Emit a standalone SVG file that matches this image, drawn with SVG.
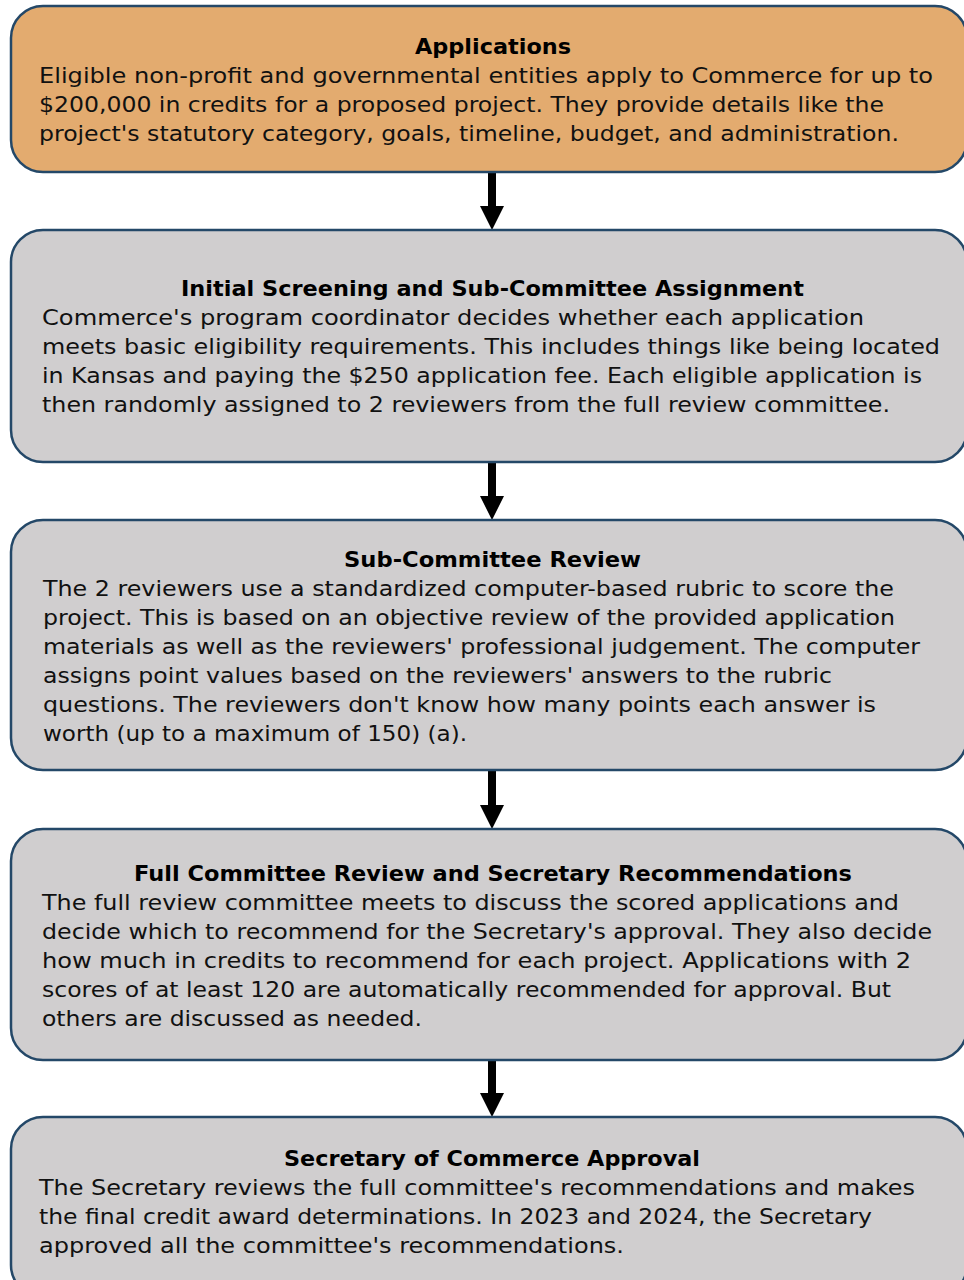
<svg xmlns="http://www.w3.org/2000/svg" width="964" height="1280" viewBox="0 0 964 1280">
  <style>
    .box { stroke: #244868; stroke-width: 2.5; }
    .orange { fill: #E3AB6F; }
    .gray { fill: #D0CECF; }
    .title { font-family: "DejaVu Sans", "Liberation Sans", sans-serif; font-size: 22px; font-weight: bold; fill: #000; text-anchor: middle; }
    .body { font-family: "DejaVu Sans", "Liberation Sans", sans-serif; font-size: 22px; fill: #111; }
    .arrow { fill: #000; }
  </style>
  <rect width="964" height="1280" fill="#FFFFFF"/>

  <g id="connectors">
    <path class="arrow" d="M488 172 H496 V206 H504 L492 230 L480 206 H488 Z"/>
    <path class="arrow" d="M488 462 H496 V496 H504 L492 520 L480 496 H488 Z"/>
    <path class="arrow" d="M488 770 H496 V805 H504 L492 829 L480 805 H488 Z"/>
    <path class="arrow" d="M488 1060 H496 V1093 H504 L492 1117 L480 1093 H488 Z"/>
  </g>

  <g id="applications">
    <rect class="box orange" x="11" y="6" width="956" height="166" rx="32" ry="32"/>
    <text class="title" x="493" y="54" textLength="156" lengthAdjust="spacingAndGlyphs">Applications</text>
    <text class="body" x="39" y="83" textLength="894" lengthAdjust="spacingAndGlyphs">Eligible non-profit and governmental entities apply to Commerce for up to</text>
    <text class="body" x="39" y="112" textLength="845" lengthAdjust="spacingAndGlyphs">$200,000 in credits for a proposed project. They provide details like the</text>
    <text class="body" x="39" y="141" textLength="860" lengthAdjust="spacingAndGlyphs">project's statutory category, goals, timeline, budget, and administration.</text>
  </g>

  <g id="initial-screening">
    <rect class="box gray" x="11" y="230" width="956" height="232" rx="32" ry="32"/>
    <text class="title" x="492.5" y="296" textLength="623" lengthAdjust="spacingAndGlyphs">Initial Screening and Sub-Committee Assignment</text>
    <text class="body" x="42" y="325" textLength="822" lengthAdjust="spacingAndGlyphs">Commerce's program coordinator decides whether each application</text>
    <text class="body" x="42" y="354" textLength="898" lengthAdjust="spacingAndGlyphs">meets basic eligibility requirements. This includes things like being located</text>
    <text class="body" x="42" y="383" textLength="880" lengthAdjust="spacingAndGlyphs">in Kansas and paying the $250 application fee. Each eligible application is</text>
    <text class="body" x="42" y="412" textLength="848" lengthAdjust="spacingAndGlyphs">then randomly assigned to 2 reviewers from the full review committee.</text>
  </g>

  <g id="sub-committee-review">
    <rect class="box gray" x="11" y="520" width="956" height="250" rx="32" ry="32"/>
    <text class="title" x="492.5" y="567" textLength="297" lengthAdjust="spacingAndGlyphs">Sub-Committee Review</text>
    <text class="body" x="43" y="596" textLength="851" lengthAdjust="spacingAndGlyphs">The 2 reviewers use a standardized computer-based rubric to score the</text>
    <text class="body" x="43" y="625" textLength="852" lengthAdjust="spacingAndGlyphs">project. This is based on an objective review of the provided application</text>
    <text class="body" x="43" y="654" textLength="877" lengthAdjust="spacingAndGlyphs">materials as well as the reviewers' professional judgement. The computer</text>
    <text class="body" x="43" y="683" textLength="789" lengthAdjust="spacingAndGlyphs">assigns point values based on the reviewers' answers to the rubric</text>
    <text class="body" x="43" y="712" textLength="833" lengthAdjust="spacingAndGlyphs">questions. The reviewers don't know how many points each answer is</text>
    <text class="body" x="43" y="741" textLength="424" lengthAdjust="spacingAndGlyphs">worth (up to a maximum of 150) (a).</text>
  </g>

  <g id="full-committee-review">
    <rect class="box gray" x="11" y="829" width="956" height="231" rx="32" ry="32"/>
    <text class="title" x="493" y="881" textLength="718" lengthAdjust="spacingAndGlyphs">Full Committee Review and Secretary Recommendations</text>
    <text class="body" x="42" y="910" textLength="857" lengthAdjust="spacingAndGlyphs">The full review committee meets to discuss the scored applications and</text>
    <text class="body" x="42" y="939" textLength="890" lengthAdjust="spacingAndGlyphs">decide which to recommend for the Secretary's approval. They also decide</text>
    <text class="body" x="42" y="968" textLength="869" lengthAdjust="spacingAndGlyphs">how much in credits to recommend for each project. Applications with 2</text>
    <text class="body" x="42" y="997" textLength="849" lengthAdjust="spacingAndGlyphs">scores of at least 120 are automatically recommended for approval. But</text>
    <text class="body" x="42" y="1026" textLength="380" lengthAdjust="spacingAndGlyphs">others are discussed as needed.</text>
  </g>

  <g id="secretary-approval">
    <rect class="box gray" x="11" y="1117" width="956" height="180" rx="32" ry="32"/>
    <text class="title" x="492" y="1166" textLength="416" lengthAdjust="spacingAndGlyphs">Secretary of Commerce Approval</text>
    <text class="body" x="39" y="1195" textLength="876" lengthAdjust="spacingAndGlyphs">The Secretary reviews the full committee's recommendations and makes</text>
    <text class="body" x="39" y="1224" textLength="833" lengthAdjust="spacingAndGlyphs">the final credit award determinations. In 2023 and 2024, the Secretary</text>
    <text class="body" x="39" y="1253" textLength="585" lengthAdjust="spacingAndGlyphs">approved all the committee's recommendations.</text>
  </g>
</svg>
